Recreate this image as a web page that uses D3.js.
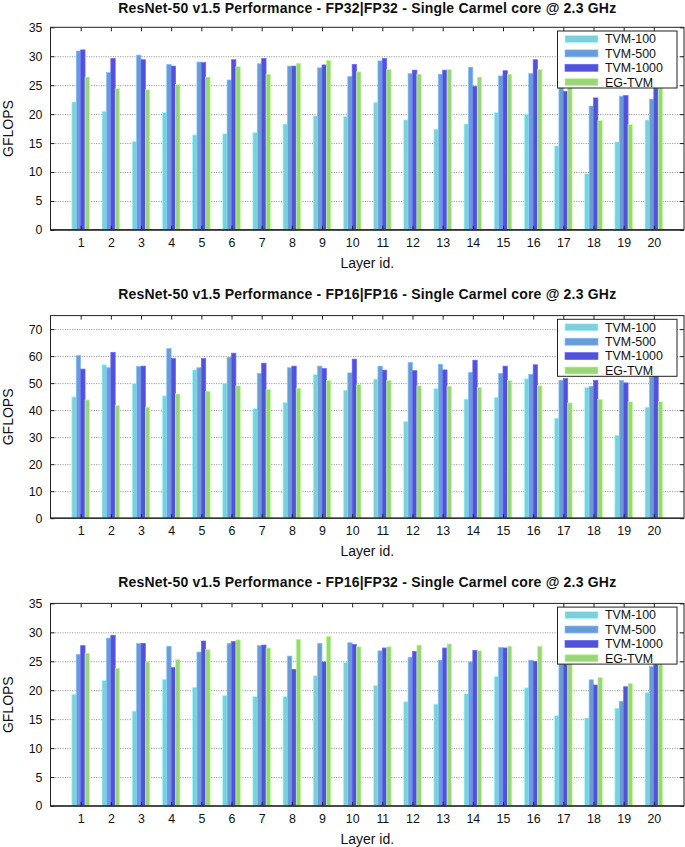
<!DOCTYPE html>
<html><head><meta charset="utf-8">
<script src="https://cdn.jsdelivr.net/npm/d3@7"></script>
<style>
html,body{margin:0;padding:0;background:#fff;}
svg{display:block;font-family:"Liberation Sans",Arial,Helvetica,sans-serif;}
</style></head>
<body>
<svg id="chart" width="685" height="847"></svg>
<script>
// ---- data ----
const layers = d3.range(1, 21);
const seriesNames = ["TVM-100", "TVM-500", "TVM-1000", "EG-TVM"];
const seriesColors = ["#7fcfda", "#6a9bd7", "#5252d9", "#9ad57a"];

const titles = [
  "ResNet-50 v1.5 Performance - FP32|FP32 - Single Carmel core @ 2.3 GHz",
  "ResNet-50 v1.5 Performance - FP16|FP16 - Single Carmel core @ 2.3 GHz",
  "ResNet-50 v1.5 Performance - FP16|FP32 - Single Carmel core @ 2.3 GHz"
];
const yMax = [35, 75, 35];
const yTicks = [d3.range(0, 36, 5), d3.range(0, 71, 10), d3.range(0, 36, 5)];

const fp32Tvm100  = [22.1,20.5,15.3,20.3,16.4,16.6,16.8,18.3,19.7,19.6,22.0,19.0,17.4,18.3,20.3,20.0,14.5,9.7,15.2,19.0];
const fp32Tvm500  = [30.9,27.2,30.2,28.6,29.0,25.9,28.7,28.3,28.0,26.5,29.2,27.0,26.9,28.1,26.6,27.0,26.5,21.4,23.1,22.6];
const fp32Tvm1000 = [31.1,29.6,29.4,28.3,28.9,29.4,29.6,28.3,28.5,28.6,29.6,27.6,27.6,24.8,27.5,29.4,23.9,22.8,23.2,24.5];
const fp32EgTvm   = [26.4,24.4,24.2,25.1,26.4,28.2,26.9,28.8,29.3,27.3,27.7,26.9,27.7,26.4,26.9,27.7,25.5,18.9,18.2,24.9];

const fp16Tvm100  = [44.9,56.8,49.9,45.3,54.9,50.0,40.6,42.8,53.2,47.4,51.5,35.8,48.0,44.1,44.7,51.6,37.0,48.4,30.7,41.1];
const fp16Tvm500  = [60.2,55.7,56.2,62.8,55.7,59.6,53.6,55.7,56.3,53.8,56.3,57.7,57.0,54.0,53.6,53.3,51.1,48.8,51.0,53.0];
const fp16Tvm1000 = [55.2,61.4,56.3,59.1,59.1,61.1,57.4,56.3,55.4,58.9,54.8,54.6,54.9,58.5,56.3,56.8,51.7,51.0,50.1,55.0];
const fp16EgTvm   = [43.8,41.7,41.1,46.0,47.0,49.0,47.7,48.1,51.0,49.4,51.0,49.0,48.9,48.4,51.0,49.0,42.7,44.0,43.1,43.1];

const mixTvm100  = [19.3,21.7,16.4,21.9,20.5,19.1,18.9,18.9,22.5,24.8,20.8,18.0,17.6,19.4,22.4,20.4,15.6,15.2,16.9,19.6];
const mixTvm500  = [26.2,29.0,28.1,27.6,26.6,28.1,27.7,25.9,28.1,28.2,26.8,25.7,25.2,24.9,27.4,25.2,24.8,21.8,18.1,24.1];
const mixTvm1000 = [27.7,29.5,28.1,23.9,28.5,28.4,27.8,23.6,24.9,27.9,27.3,26.7,27.3,26.9,27.3,25.0,25.1,20.9,20.6,24.5];
const mixEgTvm   = [26.4,23.8,24.9,25.3,27.0,28.7,27.3,28.8,29.3,27.5,27.5,27.8,28.0,26.8,27.6,27.6,26.5,22.2,21.2,25.3];

const panelData = [
  [fp32Tvm100, fp32Tvm500, fp32Tvm1000, fp32EgTvm],
  [fp16Tvm100, fp16Tvm500, fp16Tvm1000, fp16EgTvm],
  [mixTvm100, mixTvm500, mixTvm1000, mixEgTvm]
];

// ---- layout ----
const svg = d3.select("#chart");
const left = 50.5, right = 684;
const panelTops = [27.3, 315.6, 603.4];
const titleY = [12.8, 299, 587];
const plotH = 202.6;

const x = d3.scaleLinear().domain([0, 21]).range([left, right]);
const unit = x(1) - x(0);
const groupW = 0.584 * unit;
const inner = d3.scaleBand().domain(seriesNames).range([-groupW / 2, groupW / 2]).padding(0);

panelData.forEach((data, p) => {
  const top = panelTops[p], bottom = top + plotH;
  const y = d3.scaleLinear().domain([0, yMax[p]]).range([bottom, top]);
  const g = svg.append("g");

  // grid
  g.append("g")
    .attr("transform", `translate(${left},0)`)
    .call(d3.axisLeft(y).tickValues(yTicks[p].filter(v => v > 0 && v < yMax[p])).tickSize(-(right - left)).tickFormat(""))
    .call(s => s.select(".domain").remove())
    .call(s => s.selectAll("line").attr("stroke", "#8a8a8a").attr("stroke-width", 1).attr("stroke-dasharray", "1,1.4"));

  // bars
  seriesNames.forEach((name, si) => {
    const c = d3.color(seriesColors[si]);
    g.append("g").selectAll("rect")
      .data(data[si])
      .join("rect")
      .attr("x", (d, i) => x(layers[i]) + inner(name))
      .attr("width", inner.bandwidth())
      .attr("y", d => y(d))
      .attr("height", d => y(0) - y(d))
      .attr("fill", seriesColors[si])
      .attr("stroke", c.brighter(0.6).formatHex())
      .attr("stroke-width", 0.7);
  });

  // frame
  g.append("rect").attr("x", left).attr("y", top).attr("width", right - left).attr("height", plotH)
    .attr("fill", "none").attr("stroke", "#222").attr("stroke-width", 1);
  g.append("line").attr("x1", left).attr("x2", right).attr("y1", bottom).attr("y2", bottom)
    .attr("stroke", "#333").attr("stroke-width", 1.6);

  // axes
  const yAxis = g.append("g").attr("transform", `translate(${left},0)`)
    .call(d3.axisLeft(y).tickValues(yTicks[p]).tickSizeInner(-4).tickSizeOuter(0).tickPadding(8));
  const yAxisR = g.append("g").attr("transform", `translate(${right},0)`)
    .call(d3.axisRight(y).tickValues(yTicks[p]).tickSizeInner(-4).tickSizeOuter(0).tickFormat(""));
  const xAxis = g.append("g").attr("transform", `translate(0,${bottom})`)
    .call(d3.axisBottom(x).tickValues(layers).tickSizeInner(-4).tickSizeOuter(0).tickPadding(8).tickFormat(d3.format("d")));
  const xAxisT = g.append("g").attr("transform", `translate(0,${top})`)
    .call(d3.axisTop(x).tickValues(layers).tickSizeInner(-4).tickSizeOuter(0).tickFormat(""));
  [yAxis, yAxisR, xAxis, xAxisT].forEach(a => {
    a.select(".domain").remove();
    a.selectAll("line").attr("stroke", "#222");
    a.selectAll("text").attr("font-family", "Liberation Sans, Arial, sans-serif").attr("font-size", 12.4).attr("fill", "#111");
  });

  // title
  g.append("text").attr("x", (left + right) / 2).attr("y", titleY[p])
    .attr("text-anchor", "middle").attr("font-weight", "bold").attr("font-size", 14)
    .attr("letter-spacing", 0.2).attr("fill", "#111")
    .text(titles[p]);
  // axis labels
  g.append("text").attr("x", (left + right) / 2).attr("y", bottom + 38)
    .attr("text-anchor", "middle").attr("font-size", 14).attr("fill", "#111").text("Layer id.");
  g.append("text").attr("transform", `translate(12.5,${(top + bottom) / 2}) rotate(-90)`)
    .attr("text-anchor", "middle").attr("font-size", 14).attr("fill", "#111").text("GFLOPS");

  // legend
  const lg = g.append("g").attr("transform", `translate(557.5,${top + 3.7})`);
  lg.append("rect").attr("width", 119.5).attr("height", 57).attr("fill", "#fff").attr("stroke", "#222").attr("stroke-width", 1);
  seriesNames.forEach((name, si) => {
    const cy = 8 + si * 14.4;
    lg.append("rect").attr("x", 7.5).attr("y", cy - 3.5).attr("width", 33).attr("height", 7)
      .attr("fill", seriesColors[si]).attr("stroke", d3.color(seriesColors[si]).brighter(0.6).formatHex()).attr("stroke-width", 0.7);
    lg.append("text").attr("x", 47.5).attr("y", cy + 4.4).attr("font-size", 12.4).attr("fill", "#111").text(name);
  });
});
</script>
</body></html>
